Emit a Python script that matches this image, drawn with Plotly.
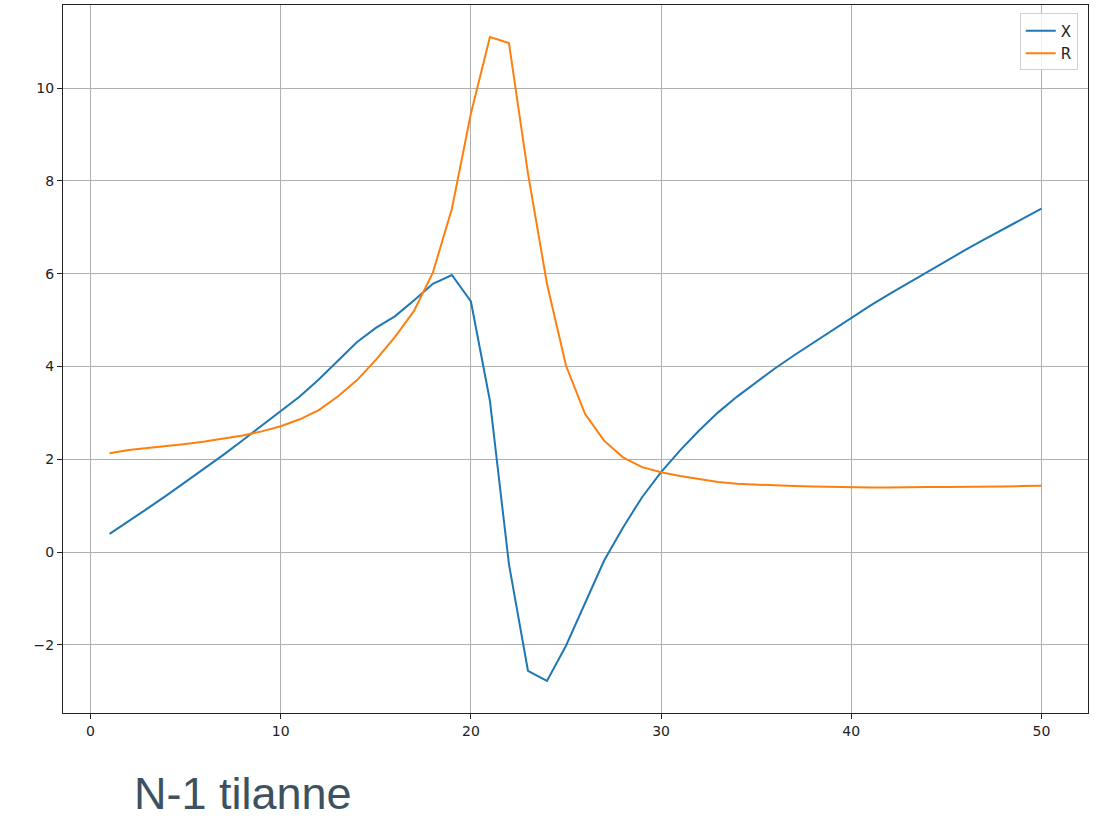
import plotly.graph_objects as go

steps = list(range(1, 51))

x_vals = [0.39, 0.66, 0.94, 1.22, 1.51, 1.80, 2.10, 2.41, 2.72, 3.03,
          3.35, 3.72, 4.12, 4.52, 4.83, 5.08, 5.42, 5.78, 5.97, 5.40,
          3.26, -0.26, -2.56, -2.78, -2.02, -1.09, -0.19, 0.53, 1.18, 1.72,
          2.19, 2.62, 3.01, 3.35, 3.66, 3.96, 4.24, 4.51, 4.78, 5.05,
          5.31, 5.56, 5.80, 6.04, 6.28, 6.51, 6.74, 6.96, 7.18, 7.40]

r_vals = [2.13, 2.20, 2.24, 2.28, 2.33, 2.38, 2.44, 2.51, 2.60, 2.71,
          2.86, 3.06, 3.35, 3.70, 4.14, 4.63, 5.19, 6.02, 7.40, 9.45,
          11.10, 10.97, 8.16, 5.78, 4.02, 2.98, 2.40, 2.04, 1.83, 1.72,
          1.64, 1.58, 1.51, 1.47, 1.45, 1.43, 1.42, 1.41, 1.40, 1.39,
          1.39, 1.39, 1.40, 1.40, 1.40, 1.40, 1.41, 1.41, 1.42, 1.43]

x_ticks = [0, 10, 20, 30, 40, 50]
y_ticks = [-2, 0, 2, 4, 6, 8, 10]
caption = "N-1 tilanne"

fig = go.Figure()
fig.add_trace(go.Scatter(x=steps, y=x_vals, mode="lines", name="X",
                         line=dict(color="#1f77b4", width=2)))
fig.add_trace(go.Scatter(x=steps, y=r_vals, mode="lines", name="R",
                         line=dict(color="#ff7f0e", width=2)))

axis_common = dict(showgrid=True, gridcolor="#b0b0b0", gridwidth=1,
                   zeroline=False, showline=True, linecolor="#222222",
                   linewidth=1.2, mirror=True, ticks="outside", ticklen=5,
                   tickwidth=1.1, tickcolor="#222222",
                   tickfont=dict(family="DejaVu Sans", size=14, color="#222222"))

fig.update_xaxes(range=[-1.45, 52.45], tickvals=x_ticks, **axis_common)
fig.update_yaxes(range=[-3.47, 11.79], tickvals=y_ticks, **axis_common)

fig.add_annotation(text=caption, xref="paper", yref="paper",
                   x=0.0673, y=-0.1525, xanchor="left", yanchor="bottom",
                   showarrow=False,
                   font=dict(family="Liberation Sans", size=45, color="#3d525e"))

fig.update_layout(
    width=1102, height=822,
    margin=dict(l=63, r=14, t=5, b=109),
    paper_bgcolor="white", plot_bgcolor="white",
    showlegend=True,
    legend=dict(x=0.99, y=0.988, xanchor="right", yanchor="top",
                bgcolor="rgba(255,255,255,0.8)", bordercolor="#d0d0d0",
                borderwidth=1, tracegroupgap=0,
                font=dict(family="DejaVu Sans", size=15, color="#222222")),
)

fig.write_html("out.html", config={"displayModeBar": False},
               post_script="document.body.style.margin='0px';document.body.style.overflow='hidden';")
